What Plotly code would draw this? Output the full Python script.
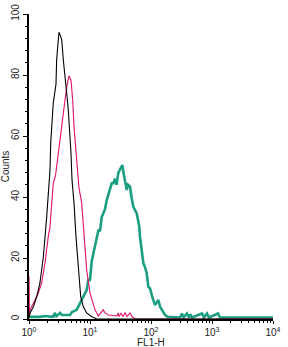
import plotly.graph_objects as go

# Black histogram (FL1-H value, count)
black_x = [1.0, 1.04, 1.18, 1.34, 1.51, 1.72, 1.95, 2.07, 2.21, 2.27, 2.41, 2.50, 2.77, 2.84,
           2.99, 3.10, 3.31, 3.44, 3.65, 3.89, 4.15, 4.41, 4.70, 4.88, 5.07, 5.47, 5.89,
           6.43, 7.04, 7.77, 8.83, 10.7, 12.9, 10000]
black_y = [0.3, 2, 4, 7.3, 11.8, 20.4, 33.5, 42.3, 48.9, 57.7, 65, 70.8, 77, 85,
           90.5, 94, 92.6, 91.5, 85, 78.4, 74, 68.5, 61, 54.4, 45.6, 38, 27,
           16, 7.3, 4, 2, 0.75, 0, 0]

# Red histogram
red_x = [1.0, 1.02, 1.04, 1.18, 1.42, 1.61, 1.83, 2.07, 2.21, 2.36, 2.50, 2.72, 3.14, 3.44,
         3.65, 3.89, 4.15, 4.52, 4.88, 5.20, 5.47, 5.89, 6.43, 6.60, 7.31, 7.97, 8.83,
         10.0, 12.1, 13.7, 16.5, 17.6, 20.0, 27.7, 28.8, 30.0, 32.2, 34.5, 37.5, 40.5,
         45.3, 48.8, 54.7, 10000]
red_y = [14, 1, 3, 5.2, 8.5, 11.8, 18.4, 27, 30.3, 38, 44.5, 47, 57.7, 63,
         68.5, 71.8, 76, 79.7, 78.4, 71.8, 63, 54.4, 45.6, 43, 38, 27, 16,
         8.5, 3, 1, 3, 2, 1.3, 1, 2, 0.8, 2, 0.8, 2, 0.8,
         2, 0.8, 0, 0]

# Teal histogram
teal_x = [1.0, 1.51, 1.83, 2.47, 2.67, 2.77, 3.22, 3.47, 4.70, 5.07, 6.05, 6.86, 7.31,
          8.83, 9.38, 10.0, 10.7, 12.1, 13.7, 14.6, 15.6, 16.5, 17.6, 18.8, 20.0, 21.3,
          22.7, 24.1, 25.7, 27.2, 29.1, 31.0, 33.9, 36.1, 37.5, 40.0, 42.0, 45.3, 47.9,
          51.3, 58.3, 64.3, 66.0, 70.4, 74.8, 79.7, 85.0, 90.3, 96.4, 104, 116, 125,
          132, 141, 150, 159, 170, 190, 299, 322, 341, 389, 420, 444, 470, 686, 739,
          828, 893, 1254, 1352, 10000]
teal_y = [0.7, 0.7, 1.0, 0.7, 2, 0.7, 2, 1.3, 1.3, 2.3, 3, 5, 6,
          9.5, 12.8, 12.8, 19, 24, 29, 29, 33.5, 34.6, 36, 39, 41, 42.3,
          44.5, 44.5, 46, 44, 47.9, 49, 50.5, 47, 45.6, 42.3, 44, 43.4, 40,
          36.8, 34.6, 30.3, 27, 23, 18.4, 17, 15, 10.6, 10, 7.5, 4.6, 5.5,
          6.2, 4, 3, 2, 1.3, 0.7, 0.5, 1.8, 0.5, 1.8, 0.5, 1.5, 0.5, 1.8, 0.5,
          1.8, 0.5, 1.8, 0.5, 0.5]

x_tickvals = [1, 10, 100, 1000, 10000]
x_ticktext = ["10<sup>0</sup>", "10<sup>1</sup>", "10<sup>2</sup>", "10<sup>3</sup>", "10<sup>4</sup>"]
x_minor = [m * 10 ** k for k in range(4) for m in range(2, 10)]
y_tickvals = [0, 20, 40, 60, 80, 100]

font = dict(family="Liberation Sans, Arial, sans-serif", size=10, color="#222")

fig = go.Figure()
fig.add_trace(go.Scatter(x=teal_x, y=teal_y, mode="lines",
                         line=dict(color="#1b9e82", width=2.6), hoverinfo="skip"))
fig.add_trace(go.Scatter(x=red_x, y=red_y, mode="lines",
                         line=dict(color="#e3126a", width=1.1), hoverinfo="skip"))
fig.add_trace(go.Scatter(x=black_x, y=black_y, mode="lines",
                         line=dict(color="#000000", width=1.1), hoverinfo="skip"))

fig.update_layout(
    width=288, height=347,
    margin=dict(l=29, r=15, t=14, b=28, autoexpand=False),
    paper_bgcolor="white", plot_bgcolor="white",
    showlegend=False, font=font,
    xaxis=dict(type="log", range=[0, 4], showgrid=False, zeroline=False, automargin=False,
               showline=True, linecolor="black", linewidth=2,
               ticks="outside", ticklen=3, tickcolor="black", tickwidth=1,
               tickmode="array", tickvals=x_tickvals, ticktext=x_ticktext,
               minor=dict(tickmode="array", tickvals=x_minor, ticks="outside",
                          ticklen=2, tickcolor="black")),
    yaxis=dict(range=[0, 100], showgrid=False, zeroline=False, automargin=False,
               showline=True, linecolor="black", linewidth=2,
               ticks="outside", ticklen=4, tickcolor="black", tickwidth=1,
               tickmode="array", tickvals=y_tickvals, tickangle=-90,
               minor=dict(dtick=4, ticks="outside", ticklen=2, tickcolor="black"),
               title=dict(text="Counts", font=font, standoff=0)),
    annotations=[dict(text="FL1-H", xref="paper", yref="paper", x=0.5, y=-0.077,
                      xanchor="center", yanchor="middle", showarrow=False, font=font)],
)

fig.write_html("out.html")
